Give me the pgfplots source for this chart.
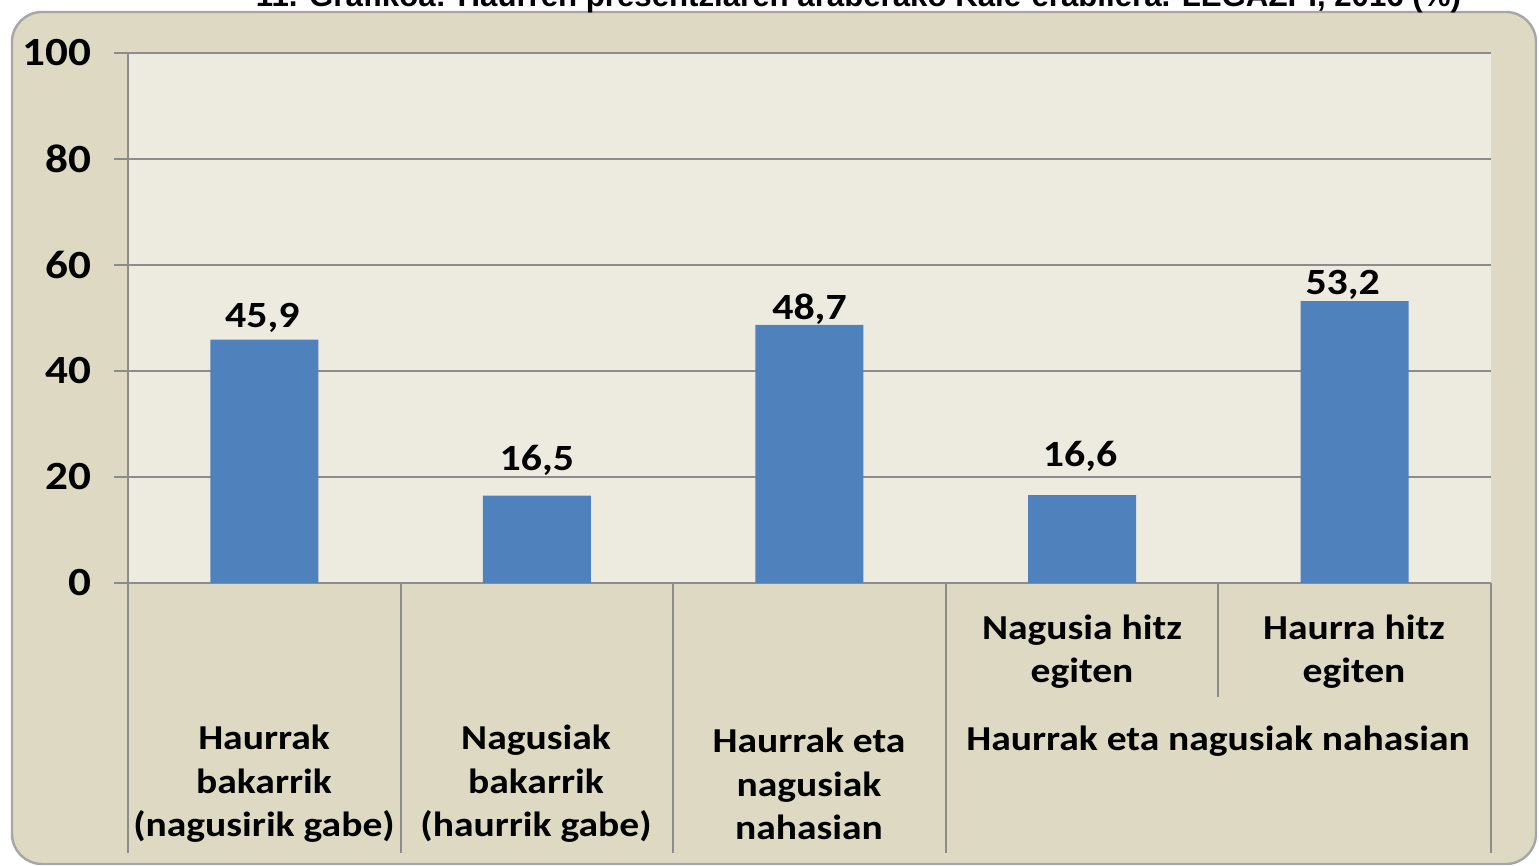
\documentclass[border=0pt]{standalone}
\usepackage{fontspec}
\setmainfont{Carlito}[FakeStretch=1.13]
\newfontfamily\arialfont{Liberation Sans}
\usepackage{pgfplots}
\pgfplotsset{compat=1.18}
\definecolor{bgbeige}{HTML}{DDD9C3}
\definecolor{plotbg}{HTML}{EDEBE0}
\definecolor{barblue}{HTML}{4F81BD}
\definecolor{gridgray}{HTML}{8C8C8C}
\begin{document}
\begin{tikzpicture}
\useasboundingbox (0pt,0pt) rectangle (769.5pt,433pt);
\clip (0pt,0pt) rectangle (769.5pt,433pt);
\fill[bgbeige, draw=gray!70, line width=1.2pt, rounded corners=15pt] (6pt,1pt) rectangle (768pt,427pt);
\node[anchor=base, font=\arialfont\bfseries\fontsize{15.6}{18}\selectfont, inner sep=0pt] at (429.25pt,429.5pt) {11. Grafikoa: Haurren presentziaren araberako Kale-erabilera. LEGAZPI, 2016 (\%)};
\begin{axis}[
  at={(64pt,141.5pt)}, anchor=south west,
  width=681.5pt, height=265pt, scale only axis,
  xmin=-0.5, xmax=4.5, ymin=0, ymax=100,
  ytick={0,20,40,60,80,100}, xtick=\empty,
  ymajorgrids, grid style={gridgray, line width=0.8pt},
  axis x line*=bottom, axis y line*=left,
  axis line style={draw=gridgray, line width=0.8pt, -},
  tick style={draw=gridgray, line width=0.8pt},
  major tick length=7pt, tick align=outside,
  yticklabel style={font=\bfseries\fontsize{20}{22}\selectfont, xshift=-8pt, /pgf/number format/assume math mode=true},
  axis background/.style={fill=plotbg},
  ybar, bar width=54pt,
  visualization depends on={\thisrow{off} \as \myoff},
  visualization depends on={\thisrow{dx} \as \mydx},
  nodes near coords={\pgfmathprintnumber[fixed,fixed zerofill,precision=1,use comma,assume math mode=true]{\pgfplotspointmeta}},
  every node near coord/.append style={font=\bfseries\fontsize{18.5}{20}\selectfont, black, yshift=\myoff pt, xshift=\mydx pt},
  clip=false,
]
\addplot[fill=barblue, draw=none] table[x=x, y=y] {
x y off dx
0 45.9 0.2 -1
1 16.5 6.5 0
2 48.7 -3.2 0
3 16.6 8.3 -1
4 53.2 -2.8 -6
};
\end{axis}
\begin{scope}[gridgray, line width=0.8pt]
\draw (64pt,141.5pt) -- (64pt,6.5pt);
\draw (200.5pt,141.5pt) -- (200.5pt,6.5pt);
\draw (336.5pt,141.5pt) -- (336.5pt,6.5pt);
\draw (473pt,141.5pt) -- (473pt,6.5pt);
\draw (609pt,141.5pt) -- (609pt,84.5pt);
\draw (745.5pt,141.5pt) -- (745.5pt,6.5pt);
\end{scope}
\begin{scope}[every node/.style={align=center, font=\bfseries\fontsize{17.5}{21.75}\selectfont, inner sep=0pt}]
\node at (132pt,41pt) {Haurrak\\bakarrik\\(nagusirik gabe)};
\node at (268pt,41pt) {Nagusiak\\bakarrik\\(haurrik gabe)};
\node at (404.5pt,41pt) {Haurrak eta\\nagusiak\\nahasian};
\node at (541pt,107.25pt) {Nagusia hitz\\egiten};
\node at (677pt,107.25pt) {Haurra hitz\\egiten};
\node at (609pt,62.5pt) {Haurrak eta nagusiak nahasian};
\end{scope}
\end{tikzpicture}
\end{document}
